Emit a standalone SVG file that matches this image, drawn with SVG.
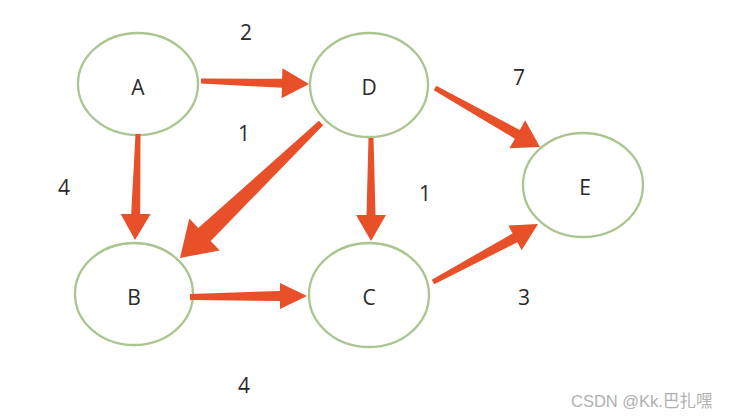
<svg xmlns="http://www.w3.org/2000/svg" width="730" height="420" viewBox="0 0 730 420">
<style>
.node{fill:#fff;stroke:#abc490;stroke-width:2.3}
.lbl{font-family:"Open Sans","Liberation Sans",sans-serif;font-size:21px;font-weight:500;fill:#2a2a2a;text-anchor:middle}
.w{font-family:"Open Sans","Liberation Sans",sans-serif;font-size:21px;font-weight:500;fill:#2a2a2a;text-anchor:middle}
.arr{fill:#e8502a}
.wm{font-family:"Liberation Sans","Noto Sans CJK SC",sans-serif;font-size:16.5px;fill:#b0b0b0}
</style>
<rect width="730" height="420" fill="#fff"/>
<g id="nodeA"><ellipse class="node" cx="138" cy="84" rx="60" ry="51"/><text class="lbl" x="138" y="95">A</text></g>
<g id="nodeD"><ellipse class="node" cx="369" cy="85" rx="59" ry="52"/><text class="lbl" x="369" y="95">D</text></g>
<g id="nodeB"><ellipse class="node" cx="134" cy="294" rx="59" ry="51"/><text class="lbl" x="134" y="305">B</text></g>
<g id="nodeC"><ellipse class="node" cx="369" cy="295" rx="60" ry="52"/><text class="lbl" x="369" y="305">C</text></g>
<g id="nodeE"><ellipse class="node" cx="583" cy="185" rx="60" ry="52"/><text class="lbl" x="585" y="195">E</text></g>
<g id="connectors">
<polygon class="arr" points="201.1,78.5 282.1,78.75 282.4,68.25 309,84 281.6,98.25 281.9,87.75 200.9,83.5"/>
<polygon class="arr" points="135.5,134 140.5,134 140.2,214 150.7,214 135,240 120.7,214 131.2,214"/>
<polygon class="arr" points="368.5,138 373.5,138 375.5,215 386,215 371,241 356,215 366.5,215"/>
<polygon class="arr" points="190,294 280,291 280,283 307,296 280,309 280,301 190,300"/>
<polygon class="arr" points="323.1,125.2 210.7,241 219.7,250.4 180,258 189.3,218.6 198.3,228 318.9,120.8"/>
<polygon class="arr" points="436.2,85.8 519.75,129.94 525.14,120.35 540,147 509.46,148.25 514.85,138.66 433.8,90.2"/>
<polygon class="arr" points="431.8,279.8 512.63,233.45 508.36,225.52 538,224 521.64,250.18 517.37,242.25 434.2,284.2"/>
<text class="w" x="246" y="40">2</text>
<text class="w" x="244" y="141">1</text>
<text class="w" x="64" y="195">4</text>
<text class="w" x="425" y="201">1</text>
<text class="w" x="519" y="85">7</text>
<text class="w" x="524" y="305">3</text>
<text class="w" x="244" y="393">4</text>
</g>
<text class="wm" x="571" y="407">CSDN @Kk.巴扎嘿</text>
</svg>
